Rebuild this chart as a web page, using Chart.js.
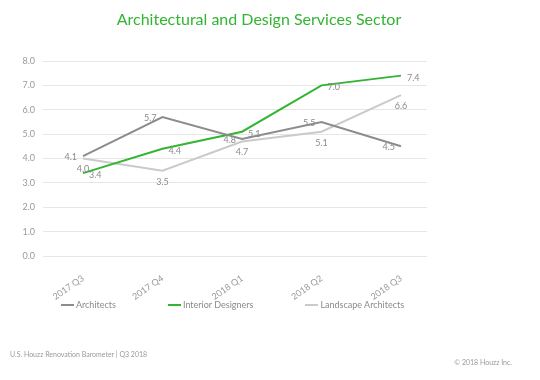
<!DOCTYPE html>
<html>
<head>
<meta charset="utf-8">
<script src="https://cdn.jsdelivr.net/npm/chart.js@4"></script>
<style>
    html, body { margin: 0; padding: 0; background: #fff; }
    #wrap { position: relative; width: 540px; height: 380px; font-family: Lato, "Open Sans", sans-serif; }
    #trendChart { position: absolute; left: 0; top: 0; }
    #title { position: absolute; left: 0; top: 9px; width: 518px; text-align: center; color: #33b533; font-size: 16px; }
    #legend { position: absolute; left: 0; top: 300px; width: 465px; display: flex; justify-content: center; gap: 52px; font-size: 9px; line-height: 10px; color: #8a8a8a; }
    #legend .item { display: flex; align-items: center; }
    #legend .box { width: 13px; height: 2px; margin-right: 2px; }
    #source { position: absolute; left: 10px; top: 350px; color: #9a9a9a; font-size: 7px; }
    #copy { position: absolute; right: 28px; top: 358px; color: #9a9a9a; font-size: 7px; }
</style>
</head>
<body>
<div id="wrap">
    <canvas id="trendChart" width="540" height="380"></canvas>
    <div id="title">Architectural and Design Services Sector</div>
    <div id="legend"></div>
    <div id="source">U.S. Houzz Renovation Barometer | Q3 2018</div>
    <div id="copy">© 2018 Houzz Inc.</div>
</div>
<script>
const quarters = ['2017 Q3', '2017 Q4', '2018 Q1', '2018 Q2', '2018 Q3'];
const architects = [4.1, 5.7, 4.8, 5.5, 4.5];
const interiorDesigners = [3.4, 4.4, 5.1, 7.0, 7.4];
const landscapeArchitects = [4.0, 3.5, 4.7, 5.1, 6.6];
const yTicks = [0, 1, 2, 3, 4, 5, 6, 7, 8];

function toPoints(values) {
    return values.map((v, i) => ({ x: i, y: v }));
}

/* etiquettes des valeurs */
const valueLabels = {
    id: 'valueLabels',
    afterDatasetsDraw(chart) {
        const ctx = chart.ctx;
        ctx.save();
        ctx.font = '9px Lato, "Open Sans", sans-serif';
        ctx.fillStyle = '#8a8a8a';
        ctx.textBaseline = 'middle';
        chart.data.datasets.forEach((ds, di) => {
            const meta = chart.getDatasetMeta(di);
            meta.data.forEach((pt, i) => {
                const txt = ds.data[i].y.toFixed(1);
                if (ds.labelSide === 'left') {
                    ctx.textAlign = 'right';
                    ctx.fillText(txt, pt.x - 6, pt.y + 1);
                } else if (ds.labelSide === 'right') {
                    ctx.textAlign = 'left';
                    ctx.fillText(txt, pt.x + 6, pt.y + 2);
                } else {
                    ctx.textAlign = 'center';
                    ctx.fillText(txt, pt.x, pt.y + 11);
                }
            });
        });
        ctx.restore();
    }
};

const chart = new Chart(document.getElementById('trendChart').getContext('2d'), {
    type: 'line',
    data: {
        datasets: [{
            label: 'Architects',
            data: toPoints(architects),
            borderColor: '#8c8c8c',
            backgroundColor: '#8c8c8c',
            labelSide: 'left'
        }, {
            label: 'Interior Designers',
            data: toPoints(interiorDesigners),
            borderColor: '#33b533',
            backgroundColor: '#33b533',
            labelSide: 'right'
        }, {
            label: 'Landscape Architects',
            data: toPoints(landscapeArchitects),
            borderColor: '#cacaca',
            backgroundColor: '#cacaca',
            labelSide: 'below'
        }]
    },
    options: {
        responsive: false,
        animation: false,
        elements: {
            line: { borderWidth: 2, tension: 0 },
            point: { radius: 0, hoverRadius: 0 }
        },
        layout: {
            padding: { top: 61, left: 0, right: 113, bottom: 80 }
        },
        scales: {
            x: {
                type: 'linear',
                min: -0.503,
                max: 4.327,
                afterBuildTicks: (scale) => {
                    scale.ticks = quarters.map((q, i) => ({ value: i }));
                },
                afterFit: (scale) => { scale.height = 44; },
                grid: { display: false },
                border: { display: false },
                ticks: {
                    callback: (v) => quarters[v],
                    autoSkip: false,
                    minRotation: 35,
                    maxRotation: 35,
                    padding: 9,
                    color: '#9a9a9a',
                    font: { family: 'Lato', size: 9 }
                }
            },
            y: {
                min: 0,
                max: 8,
                afterBuildTicks: (scale) => {
                    scale.ticks = yTicks.map(v => ({ value: v }));
                },
                afterFit: (scale) => { scale.width = 43; },
                grid: { color: '#e6e6e6', drawTicks: false },
                border: { display: false },
                ticks: {
                    callback: (v) => v.toFixed(1),
                    autoSkip: false,
                    padding: 8,
                    color: '#9a9a9a',
                    font: { family: 'Lato', size: 9 }
                }
            }
        },
        plugins: {
            title: { display: false },
            tooltip: { enabled: false },
            legend: { display: false }
        }
    },
    plugins: [valueLabels]
});

/* légende html */
const legendBox = document.getElementById('legend');
chart.data.datasets.forEach(ds => {
    const item = document.createElement('div');
    item.className = 'item';
    item.innerHTML = `<span class="box" style="background:${ds.borderColor}"></span><span>${ds.label}</span>`;
    legendBox.appendChild(item);
});
</script>
</body>
</html>
